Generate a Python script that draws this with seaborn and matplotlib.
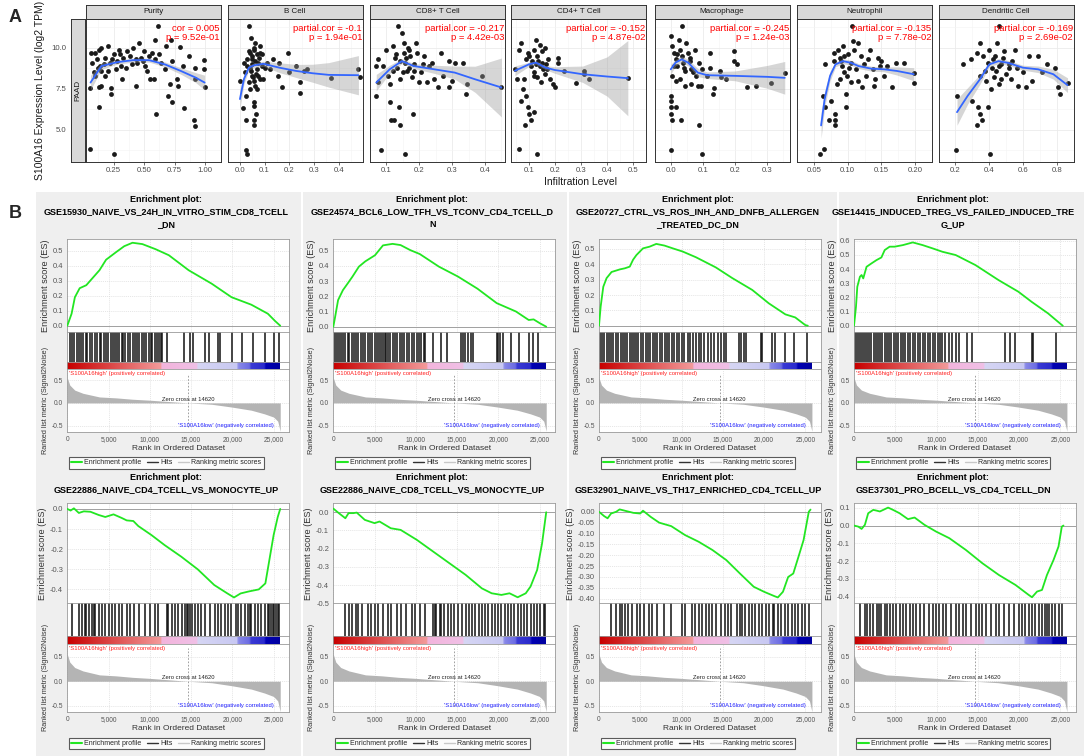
import numpy as np
import pandas as pd
import matplotlib
matplotlib.use("Agg")
import matplotlib.pyplot as plt
import seaborn as sns
from matplotlib.colors import LinearSegmentedColormap
from matplotlib.lines import Line2D

sns.set_theme(style="white")
plt.rcParams['font.family'] = ['Liberation Sans Narrow', 'Liberation Sans', 'DejaVu Sans']

# ---------------------------------------------------------------- panel A data
CELL_TYPES = ["Purity", "B Cell", "CD8+ T Cell", "CD4+ T Cell", "Macrophage", "Neutrophil", "Dendritic Cell"]
COR_LABELS = ["cor = 0.005", "partial.cor = -0.1", "partial.cor = -0.217", "partial.cor = -0.152",
              "partial.cor = -0.245", "partial.cor = -0.135", "partial.cor = -0.169"]
P_LABELS = ["p = 9.52e-01", "p = 1.94e-01", "p = 4.42e-03", "p = 4.87e-02",
            "p = 1.24e-03", "p = 7.78e-02", "p = 2.69e-02"]
X_TICKS_A = [[0.25, 0.50, 0.75, 1.00], [0.0, 0.1, 0.2, 0.3, 0.4], [0.1, 0.2, 0.3, 0.4],
             [0.1, 0.2, 0.3, 0.4, 0.5], [0.0, 0.1, 0.2, 0.3], [0.05, 0.10, 0.15, 0.20], [0.2, 0.4, 0.6, 0.8]]
X_TICK_LABELS_A = [["0.25", "0.50", "0.75", "1.00"], ["0.0", "0.1", "0.2", "0.3", "0.4"],
                   ["0.1", "0.2", "0.3", "0.4"], ["0.1", "0.2", "0.3", "0.4", "0.5"],
                   ["0.0", "0.1", "0.2", "0.3"], ["0.05", "0.10", "0.15", "0.20"], ["0.2", "0.4", "0.6", "0.8"]]
Y_TICKS_A = [5.0, 7.5, 10.0]
Y_TICK_LABELS_A = ["5.0", "7.5", "10.0"]

purity_x = [0.057, 0.25, 0.057, 0.127, 0.23, 0.225, 0.127, 0.15, 0.32, 0.435, 0.55, 0.58, 0.60, 0.615, 0.697,
            0.726, 0.77, 0.78, 0.71, 0.826, 0.908, 0.916, 0.99, 0.995, 0.99, 0.92, 0.92, 0.72, 0.68, 0.79,
            0.59, 0.73, 0.87, 0.82, 0.64, 0.41, 0.36, 0.29, 0.20, 0.15, 0.10, 0.11, 0.075, 0.14, 0.18, 0.22,
            0.255, 0.28, 0.33, 0.38, 0.435, 0.49, 0.54, 0.59, 0.15, 0.20, 0.27, 0.10, 0.18, 0.31, 0.40, 0.51,
            0.67, 0.56, 0.46, 0.50, 0.06, 0.13, 0.12, 0.17, 0.24, 0.30, 0.35, 0.44, 0.47, 0.52, 0.62, 0.09]
purity_y = [3.79, 3.51, 7.52, 6.41, 7.52, 7.18, 7.58, 7.68, 8.08, 7.64, 8.08, 8.12, 5.97, 11.35, 7.08,
            6.71, 8.08, 7.68, 7.78, 6.33, 5.56, 5.24, 9.25, 7.58, 8.69, 8.79, 8.08, 10.5, 10.1, 10.06,
            10.5, 9.19, 9.5, 8.9, 9.1, 10.0, 9.8, 9.9, 10.1, 10.0, 9.7, 9.3, 9.1, 8.9, 9.4, 9.1,
            9.6, 9.2, 9.4, 9.5, 9.3, 9.2, 9.5, 9.3, 8.6, 8.6, 8.7, 8.3, 8.3, 8.9, 9.0, 8.9,
            8.7, 9.7, 10.3, 9.8, 9.7, 9.9, 8.8, 9.0, 9.3, 9.6, 8.8, 9.1, 9.4, 8.6, 9.6, 8.5]
purity_fit_x = [0.06, 0.15, 0.28, 0.41, 0.54, 0.67, 0.80, 0.92, 0.995]
purity_fit_y = [7.88, 8.89, 9.13, 9.25, 9.25, 8.99, 8.59, 8.19, 7.88]
purity_ci = [0.45, 0.2, 0.12, 0.12, 0.12, 0.15, 0.2, 0.3, 0.45]

bcell_x = [0.0, 0.011, 0.025, 0.025, 0.025, 0.03, 0.036, 0.056, 0.056, 0.056, 0.056, 0.065, 0.045, 0.062,
           0.082, 0.082, 0.03, 0.042, 0.049, 0.056, 0.069, 0.075, 0.089, 0.03, 0.04, 0.045, 0.049, 0.056,
           0.062, 0.069, 0.075, 0.082, 0.095, 0.036, 0.042, 0.109, 0.135, 0.16, 0.172, 0.195, 0.199, 0.228,
           0.244, 0.244, 0.26, 0.27, 0.37, 0.48, 0.485, 0.155, 0.12, 0.016, 0.022, 0.05, 0.06, 0.07, 0.058,
           0.047, 0.066, 0.078, 0.052, 0.09, 0.1, 0.038]
bcell_y = [7.98, 6.31, 7.08, 5.56, 3.75, 3.49, 11.35, 6.71, 6.43, 5.56, 5.26, 5.97, 10.6, 10.3,
           10.1, 9.7, 9.3, 9.7, 9.3, 9.9, 9.6, 9.1, 8.9, 8.9, 8.8, 8.6, 8.3, 8.0,
           7.7, 7.5, 8.3, 8.1, 8.1, 7.9, 7.5, 9.1, 9.3, 9.1, 7.58, 9.7, 8.5, 8.9,
           7.24, 7.9, 8.6, 8.7, 8.15, 8.7, 8.2, 8.3, 8.7, 9.1, 8.5, 9.5, 9.2, 8.7, 10.0,
           9.0, 8.4, 9.4, 8.2, 9.6, 8.8, 9.8]
bcell_fit_x = [0.0, 0.016, 0.036, 0.056, 0.095, 0.16, 0.228, 0.294, 0.36, 0.48]
bcell_fit_y = [6.87, 8.08, 8.79, 8.93, 9.03, 8.79, 8.59, 8.45, 8.35, 8.33]
bcell_ci = [0.6, 0.3, 0.15, 0.15, 0.15, 0.3, 0.4, 0.55, 0.75, 1.2]

cd8_x = [0.069, 0.082, 0.11, 0.114, 0.123, 0.139, 0.142, 0.157, 0.18, 0.136, 0.074, 0.074, 0.09, 0.10,
         0.105, 0.11, 0.12, 0.126, 0.131, 0.142, 0.152, 0.152, 0.157, 0.163, 0.168, 0.173, 0.178, 0.183,
         0.194, 0.199, 0.204, 0.215, 0.225, 0.23, 0.24, 0.246, 0.256, 0.267, 0.272, 0.29, 0.30, 0.29,
         0.31, 0.334, 0.343, 0.345, 0.39, 0.45, 0.067, 0.147, 0.189, 0.14, 0.16, 0.17, 0.15, 0.13, 0.21,
         0.165, 0.185, 0.12]
cd8_y = [7.08, 3.75, 6.67, 5.56, 5.56, 6.37, 5.26, 3.49, 5.97, 11.35, 9.3, 7.9, 8.9, 9.9,
         8.3, 7.8, 10.1, 9.4, 8.8, 8.1, 10.3, 9.7, 9.1, 8.6, 9.9, 9.5, 8.2, 9.0,
         9.7, 7.9, 8.5, 9.5, 7.9, 8.9, 9.1, 8.1, 7.6, 9.7, 8.3, 9.2, 8.0, 7.6,
         9.1, 9.1, 7.2, 7.8, 8.3, 7.6, 8.9, 10.9, 10.3, 9.2, 9.4, 8.8, 8.5, 9.6, 9.0,
         10.0, 8.6, 8.6]
cd8_fit_x = [0.069, 0.11, 0.147, 0.183, 0.246, 0.308, 0.37, 0.45]
cd8_fit_y = [7.88, 8.69, 9.19, 8.89, 8.69, 8.49, 8.08, 7.58]
cd8_ci = [0.5, 0.25, 0.15, 0.15, 0.25, 0.4, 0.8, 1.8]

cd4_x = [0.126, 0.162, 0.15, 0.174, 0.18, 0.19, 0.198, 0.21, 0.21, 0.234, 0.28, 0.31, 0.31, 0.33, 0.48,
         0.131, 0.059, 0.07, 0.077, 0.089, 0.094, 0.10, 0.083, 0.107, 0.118, 0.046, 0.059, 0.07, 0.089,
         0.094, 0.107, 0.118, 0.12, 0.053, 0.08, 0.13, 0.14, 0.15, 0.12, 0.16, 0.14, 0.11, 0.165, 0.13,
         0.145, 0.17, 0.125, 0.135, 0.155, 0.1]
cd4_y = [10.5, 10.0, 9.1, 9.3, 8.1, 7.8, 7.6, 9.4, 9.1, 8.6, 7.85, 8.6, 8.4, 8.1, 8.15,
         3.5, 3.79, 6.77, 7.48, 7.08, 6.37, 5.97, 5.26, 5.56, 6.07, 8.69, 9.9, 10.3, 9.3,
         9.7, 8.9, 8.3, 9.9, 8.1, 8.1, 9.5, 8.9, 9.8, 8.5, 8.4, 10.2, 9.2, 9.0, 8.2,
         7.9, 8.7, 9.0, 9.2, 8.7, 9.5]
cd4_fit_x = [0.045, 0.1, 0.126, 0.162, 0.198, 0.306, 0.40, 0.48]
cd4_fit_y = [8.6, 9.0, 9.1, 8.8, 8.65, 8.39, 8.25, 8.15]
cd4_ci = [0.3, 0.12, 0.12, 0.12, 0.2, 0.5, 1.2, 2.3]

macro_x = [0.0, 0.0, 0.0, 0.0, 0.0, 0.015, 0.005, 0.031, 0.087, 0.098, 0.034, 0.0, 0.005, 0.01, 0.015,
           0.02, 0.025, 0.03, 0.034, 0.039, 0.044, 0.049, 0.054, 0.059, 0.064, 0.074, 0.079, 0.088, 0.098,
           0.005, 0.015, 0.03, 0.044, 0.064, 0.084, 0.093, 0.123, 0.123, 0.133, 0.131, 0.152, 0.172, 0.197,
           0.197, 0.206, 0.113, 0.157, 0.238, 0.265, 0.312, 0.354, 0.01, 0.02, 0.04, 0.06, 0.07]
macro_y = [3.75, 7.08, 6.77, 6.37, 5.97, 6.37, 5.56, 5.56, 5.26, 3.51, 11.35, 10.7, 10.1, 9.7, 9.3,
           8.9, 10.5, 9.9, 9.5, 9.1, 8.6, 10.3, 9.7, 9.2, 8.7, 9.9, 8.3, 9.1, 8.7,
           8.3, 8.0, 8.1, 7.7, 7.8, 7.64, 7.64, 9.7, 8.8, 7.52, 7.18, 8.6, 8.1, 9.8,
           9.2, 9.0, 8.3, 8.2, 7.58, 7.64, 7.88, 8.49, 8.9, 9.6, 8.8, 9.4, 8.5]
macro_fit_x = [0.0, 0.015, 0.034, 0.054, 0.084, 0.113, 0.2, 0.3, 0.354]
macro_fit_y = [8.69, 9.1, 9.3, 9.1, 8.49, 8.33, 8.29, 8.23, 8.17]
macro_ci = [0.3, 0.2, 0.2, 0.2, 0.25, 0.2, 0.3, 0.7, 1.0]

neutro_x = [0.0595, 0.0645, 0.064, 0.066, 0.073, 0.075, 0.082, 0.081, 0.081, 0.098, 0.097, 0.106, 0.066,
            0.08, 0.08, 0.085, 0.089, 0.091, 0.093, 0.095, 0.099, 0.10, 0.105, 0.108, 0.11, 0.112, 0.116,
            0.12, 0.124, 0.127, 0.133, 0.137, 0.141, 0.145, 0.148, 0.154, 0.166, 0.172, 0.183, 0.198,
            0.198, 0.084, 0.089, 0.105, 0.122, 0.139, 0.15, 0.158, 0.116, 0.09, 0.095, 0.102, 0.13]
neutro_y = [3.49, 3.79, 7.08, 6.37, 5.56, 6.77, 5.97, 5.56, 5.26, 6.37, 7.18, 11.35, 8.99,
            9.2, 9.7, 9.9, 9.4, 8.9, 10.1, 8.5, 8.3, 9.6, 9.1, 10.4, 9.9, 8.7, 8.0,
            9.5, 9.0, 8.3, 9.9, 8.7, 8.1, 9.4, 8.9, 8.3, 7.58, 9.1, 9.1, 8.49,
            7.88, 7.8, 8.1, 7.9, 7.6, 7.7, 9.2, 8.9, 10.3, 9.2, 9.5, 8.8, 9.3]
neutro_fit_x = [0.0607, 0.066, 0.074, 0.082, 0.093, 0.105, 0.116, 0.135, 0.154, 0.173, 0.198]
neutro_fit_y = [5.26, 6.88, 8.29, 8.99, 9.19, 9.09, 8.89, 8.73, 8.69, 8.59, 8.39]
neutro_ci = [0.8, 0.5, 0.3, 0.15, 0.15, 0.15, 0.15, 0.15, 0.15, 0.25, 0.4]

dend_x = [0.205, 0.209, 0.245, 0.29, 0.30, 0.336, 0.345, 0.355, 0.327, 0.395, 0.404, 0.458, 0.327, 0.345,
          0.364, 0.373, 0.38, 0.39, 0.40, 0.418, 0.427, 0.436, 0.445, 0.455, 0.47, 0.49, 0.50, 0.527,
          0.536, 0.555, 0.564, 0.573, 0.60, 0.618, 0.636, 0.655, 0.69, 0.745, 0.79, 0.81, 0.818, 0.864,
          0.47, 0.345, 0.41, 0.518, 0.71, 0.42, 0.46, 0.48, 0.52, 0.44]
dend_y = [3.75, 7.08, 8.99, 9.3, 6.77, 6.37, 5.97, 5.56, 5.26, 6.37, 3.51, 11.35, 9.7, 10.3,
          9.5, 8.6, 8.0, 9.1, 9.9, 8.8, 8.2, 9.5, 10.3, 7.8, 9.0, 9.8, 8.4, 8.1,
          9.2, 9.9, 8.8, 7.7, 8.5, 7.58, 9.5, 8.0, 9.5, 9.0, 8.8, 7.58, 7.18, 7.88,
          8.1, 8.3, 7.5, 8.8, 8.5, 9.3, 8.9, 9.4, 9.0, 8.6]
dend_fit_x = [0.209, 0.273, 0.345, 0.40, 0.455, 0.51, 0.60, 0.69, 0.78, 0.864]
dend_fit_y = [6.07, 7.08, 8.08, 8.99, 9.19, 9.09, 8.79, 8.69, 8.39, 7.72]
dend_ci = [0.8, 0.5, 0.3, 0.15, 0.15, 0.15, 0.15, 0.2, 0.3, 0.45]

SCATTER_X = [purity_x, bcell_x, cd8_x, cd4_x, macro_x, neutro_x, dend_x]
SCATTER_Y = [purity_y, bcell_y, cd8_y, cd4_y, macro_y, neutro_y, dend_y]
FIT_X = [purity_fit_x, bcell_fit_x, cd8_fit_x, cd4_fit_x, macro_fit_x, neutro_fit_x, dend_fit_x]
FIT_Y = [purity_fit_y, bcell_fit_y, cd8_fit_y, cd4_fit_y, macro_fit_y, neutro_fit_y, dend_fit_y]
FIT_CI = [purity_ci, bcell_ci, cd8_ci, cd4_ci, macro_ci, neutro_ci, dend_ci]

# ---------------------------------------------------------------- panel B data
GSEA_TITLES = [
    "Enrichment plot:\nGSE15930_NAIVE_VS_24H_IN_VITRO_STIM_CD8_TCELL\n_DN",
    "Enrichment plot:\nGSE24574_BCL6_LOW_TFH_VS_TCONV_CD4_TCELL_D\nN",
    "Enrichment plot:\nGSE20727_CTRL_VS_ROS_INH_AND_DNFB_ALLERGEN\n_TREATED_DC_DN",
    "Enrichment plot:\nGSE14415_INDUCED_TREG_VS_FAILED_INDUCED_TRE\nG_UP",
    "Enrichment plot:\nGSE22886_NAIVE_CD4_TCELL_VS_MONOCYTE_UP",
    "Enrichment plot:\nGSE22886_NAIVE_CD8_TCELL_VS_MONOCYTE_UP",
    "Enrichment plot:\nGSE32901_NAIVE_VS_TH17_ENRICHED_CD4_TCELL_UP",
    "Enrichment plot:\nGSE37301_PRO_BCELL_VS_CD4_TCELL_DN",
]

es_rank_1 = [0, 520, 920, 1500, 2300, 3100, 3900, 4700, 5900, 6900, 7900, 9100, 10700, 12300, 14700,
             17500, 19900, 22300, 24300, 25200, 25800]
es_1 = [0.0, 0.08, 0.19, 0.25, 0.27, 0.32, 0.37, 0.44, 0.49, 0.53, 0.553, 0.544, 0.51, 0.47, 0.37,
        0.28, 0.19, 0.14, 0.08, 0.03, 0.0]
es_rank_2 = [0, 190, 580, 1160, 1750, 2330, 3100, 3880, 5050, 6020, 7180, 8150, 9320, 10480, 12800,
             15100, 17470, 19800, 22130, 23680, 24270, 25050, 25800]
es_2 = [0.0, 0.055, 0.175, 0.24, 0.285, 0.33, 0.395, 0.43, 0.47, 0.535, 0.545, 0.537, 0.504, 0.478, 0.395,
        0.33, 0.25, 0.155, 0.1, 0.044, 0.048, 0.022, 0.0]
es_rank_3 = [0, 200, 520, 920, 1520, 2530, 3130, 3730, 4130, 4530, 5330, 6130, 6940, 7940, 8940, 10150,
             11750, 14150, 16160, 18570, 20570, 22580, 23780, 25000, 25300]
es_3 = [0.0, 0.124, 0.254, 0.31, 0.35, 0.367, 0.374, 0.385, 0.43, 0.46, 0.504, 0.515, 0.533, 0.522, 0.504,
        0.483, 0.446, 0.38, 0.31, 0.233, 0.146, 0.074, 0.054, 0.004, 0.0]
es_rank_4 = [0, 240, 400, 720, 920, 1120, 1520, 2120, 2720, 3320, 3720, 4320, 4920, 5920, 7120, 8320,
             9520, 10720, 12320, 14720, 17520, 19920, 21520, 23520, 24720, 25300]
es_4 = [0.0, 0.134, 0.275, 0.346, 0.358, 0.334, 0.416, 0.44, 0.463, 0.482, 0.534, 0.558, 0.558, 0.569,
        0.588, 0.569, 0.546, 0.522, 0.499, 0.428, 0.322, 0.24, 0.169, 0.087, 0.028, 0.0]
es_rank_5 = [0, 400, 800, 1400, 2000, 2800, 3800, 4600, 5600, 6600, 7200, 8000, 8600, 10200, 11800, 13800,
             15800, 17800, 19400, 20200, 21000, 22000, 23200, 24000, 24500, 25000, 25500, 25800]
es_5 = [0.0, -0.008, 0.003, -0.02, -0.012, -0.014, -0.03, -0.04, -0.027, -0.045, -0.057, -0.06, -0.085,
        -0.13, -0.18, -0.237, -0.30, -0.378, -0.42, -0.44, -0.42, -0.41, -0.40, -0.37, -0.25, -0.13, -0.04, 0.0]
es_rank_6 = [0, 670, 1460, 1850, 2440, 2840, 3820, 5000, 5600, 6970, 8160, 10130, 12100, 14070, 16040,
             18000, 19190, 20370, 21350, 22340, 23320, 23900, 24700, 25300, 25800]
es_6 = [0.02, -0.005, -0.033, -0.005, -0.005, -0.002, -0.042, -0.06, -0.051, -0.088, -0.097, -0.152,
        -0.216, -0.28, -0.344, -0.418, -0.445, -0.454, -0.445, -0.467, -0.445, -0.408, -0.317, -0.17, 0.0]
es_rank_7 = [0, 625, 1040, 1460, 2080, 2500, 3125, 4170, 5000, 5330, 6250, 7290, 8750, 10420, 12080,
             13750, 15420, 17080, 18750, 20000, 21250, 21670, 22290, 22920, 23540, 24170, 24790, 25420, 25630]
es_7 = [0.0, -0.02, -0.03, -0.008, 0.0, 0.011, 0.005, -0.005, -0.008, 0.005, -0.023, -0.05, -0.066, -0.107,
        -0.138, -0.176, -0.222, -0.284, -0.345, -0.368, -0.388, -0.394, -0.368, -0.30, -0.284, -0.207,
        -0.13, 0.0, 0.01]
es_rank_8 = [0, 520, 920, 1320, 1720, 2330, 2730, 3130, 3730, 4130, 4730, 5530, 6540, 7340, 8540, 9950,
             11550, 13550, 15560, 17560, 19570, 21170, 21570, 22180, 22780, 23380, 24180, 24780, 25180, 25380]
es_8 = [0.0, -0.006, -0.019, 0.004, 0.069, 0.088, 0.084, 0.079, 0.092, 0.101, 0.088, 0.069, 0.036, 0.045,
        0.004, -0.034, -0.071, -0.137, -0.212, -0.278, -0.334, -0.39, -0.403, -0.371, -0.362, -0.278,
        -0.193, -0.118, -0.006, 0.0]

hits_1 = [320, 520, 800, 1120, 1440, 1600, 1920, 2240, 2400, 2720, 3040, 3320, 3600, 3920, 4120, 4400, 4640,
          4920, 5240, 5520, 5840, 6000, 6320, 6640, 6800, 7040, 7320, 7600, 7920, 8240, 8400, 8720, 9040,
          9320, 9520, 9840, 10120, 10320, 10640, 10920, 11120, 11320, 11520, 12120, 14120, 14920, 15240,
          16720, 17120, 18320, 18520, 19920, 21120, 22520, 23920, 25000, 25600]
hits_2 = [190, 390, 700, 970, 1160, 1470, 1750, 1940, 2250, 2520, 2790, 3030, 3300, 3570, 3880, 4190, 4460,
          4730, 5040, 5280, 5510, 5740, 6010, 6210, 6440, 6670, 6910, 7180, 7450, 7760, 8070, 8340, 8610,
          8920, 9230, 9510, 9780, 10090, 10400, 10670, 10940, 11170, 12030, 13000, 13770, 15520, 15710,
          15910, 16300, 16680, 16880, 19790, 19980, 20250, 20560, 21530, 22500, 23670, 24250, 24830]
hits_3 = [120, 360, 600, 920, 1200, 1440, 1720, 2050, 2330, 2610, 2850, 3130, 3410, 3730, 3970, 4210, 4530,
          4770, 5050, 5330, 5650, 5930, 6220, 6540, 6780, 7060, 7340, 7660, 7940, 8260, 8540, 8860, 9140,
          9460, 9740, 10070, 10350, 10750, 11030, 11350, 11750, 12070, 12390, 12750, 13150, 13550, 13950,
          14360, 14760, 15160, 15360, 16960, 17160, 17560, 17760, 19570, 19770, 20970, 21370, 22570, 23580,
          25180]
hits_4 = [120, 320, 640, 840, 1120, 1360, 1600, 1840, 2120, 2400, 2640, 2920, 3200, 3440, 3720, 4000, 4240,
          4520, 4800, 5120, 5360, 5640, 5920, 6240, 6520, 6800, 7120, 7440, 7720, 8000, 8320, 8640, 8920,
          9200, 9520, 9840, 10120, 10400, 10720, 11000, 11520, 11920, 12320, 12720, 13720, 14320, 18320,
          18920, 19520, 21520, 21720, 24520]
hits_5 = [600, 1410, 1810, 2130, 2290, 2610, 3010, 3210, 3410, 3820, 4220, 4540, 5020, 5420, 5820, 6220,
          6630, 7230, 7630, 8030, 8630, 9440, 10040, 10640, 11040, 12050, 12250, 12650, 13050, 13450, 13860,
          14260, 14460, 14660, 14860, 15060, 15460, 15860, 16260, 16670, 17270, 17870, 18270, 18670, 19080,
          19480, 19880, 20480, 20680, 21080, 21490, 21890, 22090, 22290, 22690, 23090, 23490, 23900, 24300,
          24500, 24700, 24900, 25100, 25300, 25500, 25700]
hits_6 = [1460, 1850, 2250, 2720, 3030, 3430, 4220, 4530, 5000, 5400, 5990, 6580, 6970, 7760, 8160, 8750,
          9530, 9930, 10520, 11110, 12100, 12290, 12490, 12880, 13080, 13470, 13870, 14260, 14660, 15050,
          15640, 16040, 16430, 16820, 17220, 17610, 18010, 18400, 18790, 19190, 19580, 19980, 20370, 20760,
          21160, 21550, 21950, 22340, 22730, 23130, 23520, 23920, 24310, 24700, 25100, 25490, 25700]
hits_7 = [1460, 2080, 2500, 2830, 3130, 3540, 3960, 4580, 5000, 5420, 6040, 6460, 7080, 7920, 8750, 10000,
          10420, 11250, 11670, 12080, 12500, 12920, 13330, 13750, 14170, 14790, 15210, 15630, 16040, 16670,
          17080, 17290, 17710, 18130, 18540, 18960, 19380, 19790, 20210, 20630, 21040, 21250, 21670, 22080,
          22500, 22920, 23330, 23750, 24170, 24580, 25000, 25420]
hits_8 = [720, 1320, 1520, 1920, 2330, 2730, 3050, 3330, 3730, 4010, 4410, 4730, 5130, 5530, 5930, 6340,
          6740, 7140, 7540, 7940, 8540, 9140, 9540, 9940, 10350, 10750, 11150, 11750, 12350, 12750, 13150,
          13550, 14150, 14760, 15160, 15560, 15960, 16560, 17160, 17560, 18170, 18770, 19370, 19970, 20370,
          20770, 21170, 21570, 21970, 22380, 22780, 23180, 23380, 23580, 23980, 24380, 24780, 25180]

ES_RANKS = [es_rank_1, es_rank_2, es_rank_3, es_rank_4, es_rank_5, es_rank_6, es_rank_7, es_rank_8]
ES_VALUES = [es_1, es_2, es_3, es_4, es_5, es_6, es_7, es_8]
HITS = [hits_1, hits_2, hits_3, hits_4, hits_5, hits_6, hits_7, hits_8]

# ranked list metric (shared)
RANK_POS = [0, 300, 900, 1900, 3900, 5900, 7900, 9900, 11500, 14620, 17500, 19900, 22300, 23900, 25000, 25500, 25800]
RANK_VAL = [0.55, 0.39, 0.28, 0.21, 0.13, 0.11, 0.08, 0.06, 0.04, 0.0, -0.03, -0.09, -0.16, -0.24, -0.31, -0.40, -0.62]
N_GENES = 25800
ZERO_CROSS = 14620
CBAR_STOPS = [0.0, 0.44, 0.445, 0.61, 0.615, 0.80, 0.805, 0.86, 0.865, 0.93, 0.935, 1.0]
CBAR_COLORS = ['#c80000', '#f39a9a', '#f3b4dc', '#f0c0e6', '#d6d6f4', '#c8c8f2', '#8a8ae8', '#6a6ae2',
               '#3a3ad4', '#2a2acc', '#0000b4', '#0000a0']
X_TICKS_B = [0, 5000, 10000, 15000, 20000, 25000]
X_TICK_LABELS_B = ["0", "5,000", "10,000", "15,000", "20,000", "25,000"]

# ---------------------------------------------------------------- figure
W, H = 1084, 756
fig = plt.figure(figsize=(W / 100, H / 100), dpi=100)


def box(x0, y0, x1, y1):
    return [x0 / W, 1 - y1 / H, (x1 - x0) / W, (y1 - y0) / H]


# ---- Panel A
A_LEFTS = [85.5, 227.6, 370, 511, 654.6, 797, 938.6]
A_W = 135
A_STRIP_TOP = 5
A_TOP, A_BOT = 18.8, 161.7
A_XLIMS = [(0.019, 1.026), (-0.024, 0.497), (0.051, 0.461), (0.03, 0.505), (-0.015, 0.369), (0.054, 0.204),
           (0.178, 0.891)]
A_YLIM = (3.04, 11.78)
grey_txt = '#4d4d4d'

for i in range(7):
    x0 = A_LEFTS[i]
    ax = fig.add_axes(box(x0, A_TOP, x0 + A_W, A_BOT))
    ax.set_facecolor('white')
    ax.set_xlim(*A_XLIMS[i])
    ax.set_ylim(*A_YLIM)
    xt = X_TICKS_A[i]
    ax.set_xticks(xt)
    ax.set_xticklabels(X_TICK_LABELS_A[i], fontsize=5.6, color=grey_txt)
    step = xt[1] - xt[0]
    ax.set_xticks([t - step / 2 for t in xt] + [xt[-1] + step / 2], minor=True)
    ax.set_yticks(Y_TICKS_A)
    ax.set_yticks([3.75, 6.25, 8.75, 11.25], minor=True)
    ax.set_yticklabels([])
    ax.grid(True, which='major', color='#ebebeb', lw=0.6)
    ax.grid(True, which='minor', color='#f4f4f4', lw=0.4)
    ax.set_axisbelow(True)
    ax.tick_params(axis='x', which='major', length=2, width=0.5, color='#333333', pad=1.5, bottom=True)
    ax.tick_params(axis='y', which='major', length=0)
    ax.tick_params(axis='both', which='minor', length=0)
    for s in ax.spines.values():
        s.set_color('#333333')
        s.set_linewidth(0.7)
    sns.scatterplot(x=SCATTER_X[i], y=SCATTER_Y[i], ax=ax, color='#1a1a1a', s=12, linewidth=0, zorder=2)
    fx = np.array(FIT_X[i]); fy = np.array(FIT_Y[i]); ci = np.array(FIT_CI[i])
    ax.fill_between(fx, fy - ci, fy + ci, color='#999999', alpha=0.4, lw=0, zorder=3)
    sns.lineplot(x=fx, y=fy, ax=ax, color='#3366ff', lw=1.3, estimator=None, sort=False, zorder=4)
    ax.set_xlabel(''); ax.set_ylabel('')
    ax.text(0.995, 0.965, COR_LABELS[i] + "\n" + P_LABELS[i], transform=ax.transAxes, ha='right', va='top',
            fontsize=6.8, color='#ff0000', linespacing=1.0)
    # strip
    sx = fig.add_axes(box(x0, A_STRIP_TOP, x0 + A_W, A_TOP))
    sx.set_facecolor('#d9d9d9')
    sx.set_xticks([]); sx.set_yticks([])
    for s in sx.spines.values():
        s.set_color('#333333'); s.set_linewidth(0.7)
    sx.text(0.5, 0.5, CELL_TYPES[i], ha='center', va='center', fontsize=5.8, color='#1a1a1a',
            transform=sx.transAxes)

# row strip "PAAD" carries the shared y axis
px = fig.add_axes(box(71, A_TOP, 84.5, A_BOT))
px.set_facecolor('#d9d9d9')
px.set_xticks([])
px.set_ylim(*A_YLIM)
px.set_yticks(Y_TICKS_A)
px.set_yticklabels(Y_TICK_LABELS_A, fontsize=5.6, color=grey_txt)
px.tick_params(axis='y', length=2, width=0.5, color='#333333', pad=1.5)
for s in px.spines.values():
    s.set_color('#333333'); s.set_linewidth(0.7)
px.text(0.5, 0.5, "PAAD", rotation=90, ha='center', va='center', fontsize=5.8, color='#1a1a1a',
        transform=px.transAxes)

fig.text(40 / W, 1 - 90 / H, "S100A16 Expression Level (log2 TPM)", rotation=90, ha='center', va='center',
         fontsize=7.5, color='#1a1a1a')
fig.text(580 / W, 1 - 181.7 / H, "Infiltration Level", ha='center', va='center', fontsize=7.5, color='#1a1a1a')
fig.text(15 / W, 1 - 18 / H, "A", ha='center', va='center', fontsize=13, fontweight='bold',
         family=['Liberation Sans', 'DejaVu Sans'])
fig.text(15 / W, 1 - 213 / H, "B", ha='center', va='center', fontsize=13, fontweight='bold',
         family=['Liberation Sans', 'DejaVu Sans'])

# ---- Panel B background
bg = fig.add_axes(box(36, 192, 1084, 756), zorder=-5)
bg.set_facecolor('#efefef')
bg.set_xticks([]); bg.set_yticks([])
for s in bg.spines.values():
    s.set_visible(False)
for xs in [302, 568, 838]:
    bg.axvline((xs - 36) / (1084 - 36), color='white', lw=1.5)

B_LEFTS = [67.3, 333.3, 599, 854]
B_W = 222
B_XMAX = 26900
ROWS = [
    dict(title=194.5, es=(239.3, 331.7), hits=(331.7, 361.7), cbar=(361.7, 369.3), rank=(369.3, 431.7),
         leg=463, ranky=(-0.63, 0.735)),
    dict(title=472.5, es=(503.3, 603.3), hits=(603.3, 635.7), cbar=(635.7, 643.7), rank=(643.7, 711.7),
         leg=743.5, ranky=(-0.62, 0.765)),
]
ES_YLIMS = [(-0.04, 0.576), (-0.033, 0.575), (-0.039, 0.563), (-0.042, 0.61),
            (-0.469, 0.028), (-0.5, 0.049), (-0.421, 0.039), (-0.437, 0.125)]
ES_YTICKS = [[0.0, 0.1, 0.2, 0.3, 0.4, 0.5], [0.0, 0.1, 0.2, 0.3, 0.4, 0.5], [0.0, 0.1, 0.2, 0.3, 0.4, 0.5],
             [0.0, 0.1, 0.2, 0.3, 0.4, 0.5, 0.6], [0.0, -0.1, -0.2, -0.3, -0.4],
             [0.0, -0.1, -0.2, -0.3, -0.4, -0.5],
             [0.0, -0.05, -0.1, -0.15, -0.2, -0.25, -0.3, -0.35, -0.4], [0.1, 0.0, -0.1, -0.2, -0.3, -0.4]]
ES_FMT = ["{:.1f}"] * 6 + ["{:.2f}", "{:.1f}"]

cmap = LinearSegmentedColormap.from_list('gsea', list(zip(CBAR_STOPS, CBAR_COLORS)))
frame_c = '#9a9a9a'
tick_c = '#555555'

for k in range(8):
    r, c = divmod(k, 4)
    R = ROWS[r]
    x0 = B_LEFTS[c]
    x1 = x0 + B_W
    cx_mid = (x0 + B_W / 2 - 12) / W
    # title
    fig.text(cx_mid, 1 - R['title'] / H, GSEA_TITLES[k], ha='center', va='top',
             fontsize=6.5, fontweight='bold', color='black', linespacing=1.55,
             family=['Liberation Sans', 'DejaVu Sans'])
    # ES axes
    ax = fig.add_axes(box(x0, R['es'][0], x1, R['es'][1]))
    ax.set_facecolor('white')
    ax.set_xlim(0, B_XMAX)
    ax.set_ylim(*ES_YLIMS[k])
    ax.set_xticks(X_TICKS_B); ax.set_xticklabels([])
    ax.set_yticks(ES_YTICKS[k])
    ax.set_yticklabels([ES_FMT[k].format(v) for v in ES_YTICKS[k]], fontsize=5.4, color=tick_c)
    ax.tick_params(axis='y', length=2, width=0.5, color=tick_c, pad=1)
    ax.tick_params(axis='x', length=0)
    ax.grid(True, color='#dcdcdc', lw=0.5, ls=(0, (1.5, 1.5)))
    ax.axhline(0, color='#a0a0a0', lw=0.7, zorder=1)
    for s in ax.spines.values():
        s.set_color(frame_c); s.set_linewidth(0.6)
    df = pd.DataFrame({'rank': ES_RANKS[k], 'es': ES_VALUES[k]})
    sns.lineplot(data=df, x='rank', y='es', ax=ax, color='#22e622', lw=1.3, estimator=None, sort=False,
                 zorder=3)
    ax.set_xlabel('')
    ax.set_ylabel('Enrichment score (ES)', fontsize=6.6, color='#333333', labelpad=2)
    # hits
    hx = fig.add_axes(box(x0, R['hits'][0], x1, R['hits'][1]))
    hx.set_facecolor('white')
    hx.set_xlim(0, B_XMAX); hx.set_ylim(0, 1)
    hx.vlines(HITS[k], 0, 1, color='#111111', lw=1.1)
    hx.set_xticks([]); hx.set_yticks([])
    for s in hx.spines.values():
        s.set_color(frame_c); s.set_linewidth(0.6)
    # colour bar
    cbx = fig.add_axes(box(x0, R['cbar'][0], x1, R['cbar'][1]))
    cbx.set_facecolor('white')
    cbx.imshow(np.linspace(0, 1, 600)[None, :], aspect='auto', cmap=cmap, extent=[0, N_GENES, 0, 1])
    cbx.set_xlim(0, B_XMAX); cbx.set_ylim(0, 1)
    cbx.set_xticks([]); cbx.set_yticks([])
    for s in cbx.spines.values():
        s.set_color(frame_c); s.set_linewidth(0.6)
    # ranked list metric
    rx = fig.add_axes(box(x0, R['rank'][0], x1, R['rank'][1]))
    rx.set_facecolor('white')
    rx.set_xlim(0, B_XMAX)
    rx.set_ylim(*R['ranky'])
    rx.fill_between(RANK_POS, 0, RANK_VAL, color='#b4b4b4', lw=0, zorder=2)
    rx.axvline(ZERO_CROSS, color='#909090', lw=0.6, ls=(0, (2, 2)), ymin=0.08, ymax=0.93, zorder=3)
    rx.set_xticks(X_TICKS_B)
    rx.set_xticklabels(X_TICK_LABELS_B, fontsize=4.8, color=tick_c)
    rx.set_yticks([0.5, 0.0, -0.5])
    rx.set_yticklabels(["0.5", "0.0", "-0.5"], fontsize=4.8, color=tick_c)
    rx.tick_params(length=2, width=0.5, color=tick_c, pad=1)
    rx.grid(True, color='#dcdcdc', lw=0.5, ls=(0, (1.5, 1.5)))
    rx.set_axisbelow(True)
    for s in rx.spines.values():
        s.set_color(frame_c); s.set_linewidth(0.6)
    rx.set_xlabel('Rank in Ordered Dataset', fontsize=6.0, color='#333333', labelpad=1.5)
    rx.set_ylabel('Ranked list metric (Signal2Noise)', fontsize=5.2, color='#333333', labelpad=2)
    rx.text(200, R['ranky'][1] - 0.04, "'S100A16high' (positively correlated)", fontsize=4.2, color='#ff2020',
            ha='left', va='top')
    rx.text(ZERO_CROSS, 0.03, "Zero cross at 14620", fontsize=4.2, color='#222222', ha='center', va='bottom')
    rx.text(25000, -0.5, "'S100A16low' (negatively correlated)", fontsize=4.2, color='#2020ff', ha='right',
            va='center')
    # legend
    handles = [Line2D([], [], color='#22e622', lw=1.5), Line2D([], [], color='#333333', lw=1.0),
               Line2D([], [], color='#c8c8c8', lw=1.0)]
    leg = fig.legend(handles, ['Enrichment profile', 'Hits', 'Ranking metric scores'], loc='center',
                     bbox_to_anchor=(cx_mid, 1 - R['leg'] / H), ncol=3, fontsize=5.0,
                     frameon=True, fancybox=False, edgecolor='#333333', handlelength=1.6, handletextpad=0.3,
                     columnspacing=0.8, borderpad=0.3)
    leg.get_frame().set_linewidth(0.8)
    leg.get_frame().set_facecolor('white')

fig.savefig('out.png', dpi=100)
